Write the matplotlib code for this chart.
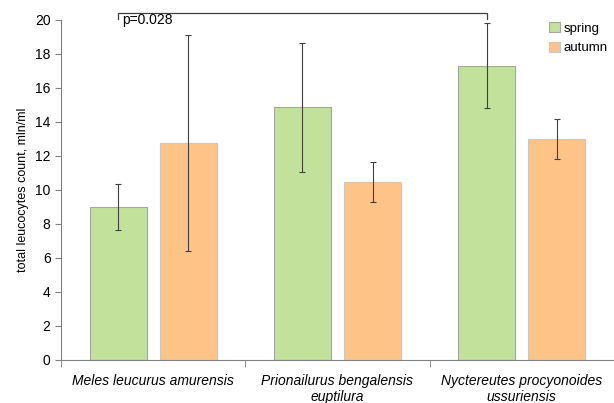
import matplotlib.pyplot as plt
import numpy as np

species = ["Meles leucurus amurensis",
           "Prionailurus bengalensis\neuptilura",
           "Nyctereutes procyonoides\nussuriensis"]
spring = [9.0, 14.87, 17.32]
spring_err = [1.37, 3.8, 2.5]
autumn = [12.76, 10.46, 13.0]
autumn_err = [6.35, 1.17, 1.2]
p_label = "p=0.028"

plt.rcParams["font.family"] = ["Liberation Sans", "DejaVu Sans"]

fig = plt.figure(figsize=(6.14, 4.03), dpi=100)
ax = fig.add_axes([0.0993, 0.1067, 0.9007, 0.8437])

x = np.arange(len(species))
width = 0.31
off = 0.19
err_kw = dict(ecolor="#404040", elinewidth=0.8, capsize=2, capthick=0.8)
ax.bar(x - off, spring, width, yerr=spring_err, color="#c2e29b",
       edgecolor="#a6a6a6", linewidth=0.8, label="spring", error_kw=err_kw)
ax.bar(x + off, autumn, width, yerr=autumn_err, color="#fec387",
       edgecolor="#c8c8c8", linewidth=0.8, label="autumn", error_kw=err_kw)

ax.set_xlim(-0.5, 2.5)
ax.set_ylim(0, 20)
ax.set_yticks(range(0, 21, 2))
ax.set_xticks(x)
ax.set_xticklabels(species, style="italic", fontsize=10, linespacing=1.15)
ax.set_xticks([-0.5, 0.5, 1.5, 2.5], minor=True)
ax.tick_params(axis="x", which="major", length=0, pad=10)
ax.tick_params(axis="x", which="minor", length=5, color="#808080")
ax.tick_params(axis="y", length=4, color="#808080", labelsize=10)
ax.set_ylabel("total leucocytes count, mln/ml", fontsize=9)

for side in ["top", "right"]:
    ax.spines[side].set_visible(False)
for side in ["left", "bottom"]:
    ax.spines[side].set_color("#808080")
    ax.spines[side].set_linewidth(0.8)

# significance bracket between spring bars of group 1 and 3
x1, x2 = x[0] - off, x[2] - off
ax.plot([x1, x1, x2, x2], [20.05, 20.42, 20.42, 20.05],
        color="#404040", linewidth=0.9, clip_on=False)
ax.text(x1 + 0.02, 20.0, p_label, fontsize=10, va="center", ha="left")

ax.legend(loc="upper left", bbox_to_anchor=(0.861, 1.028), frameon=False,
          fontsize=9.5, handlelength=0.8, handleheight=0.8,
          handletextpad=0.3, labelspacing=0.5)

fig.savefig("out.png", dpi=100)
